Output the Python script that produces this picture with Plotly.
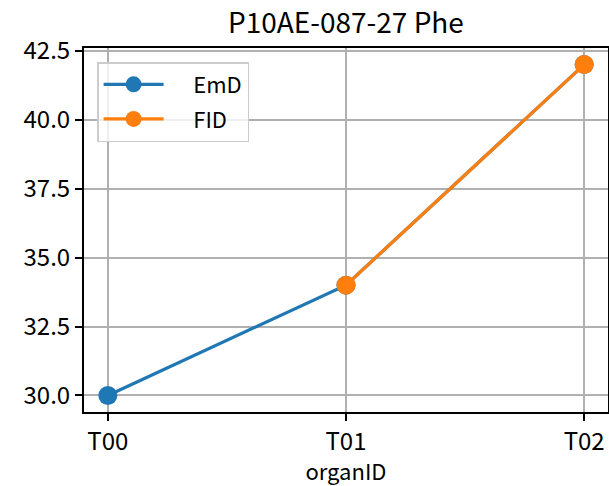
import plotly.graph_objects as go

categories = ["T00", "T01", "T02"]
emd_x = ["T00", "T01", "T02"]
emd_y = [30.0, 34.0, 42.0]
fid_x = ["T01", "T02"]
fid_y = [34.0, 42.0]
y_ticks = [30.0, 32.5, 35.0, 37.5, 40.0, 42.5]
y_labels = ["30.0", "32.5", "35.0", "37.5", "40.0", "42.5"]

FONT = "Noto Sans CJK JP"
PAD = "\u00a0" * 5

fig = go.Figure()
fig.add_trace(go.Scatter(x=emd_x, y=emd_y, mode="lines+markers", name=PAD + "EmD",
                         legendgroup="a",
                         line=dict(color="#1f77b4", width=3.2),
                         marker=dict(color="#1f77b4", size=19)))
fig.add_trace(go.Scatter(x=fid_x, y=fid_y, mode="lines+markers", name=PAD + "FID",
                         legendgroup="b",
                         line=dict(color="#ff7f0e", width=3.2),
                         marker=dict(color="#ff7f0e", size=19)))

axis_common = dict(showline=True, linecolor="black", linewidth=2, mirror=True,
                   showgrid=True, gridcolor="#b0b0b0", gridwidth=2,
                   ticks="outside", ticklen=7, tickwidth=2, tickcolor="black",
                   zeroline=False, automargin=False,
                   tickfont=dict(family=FONT, size=24, color="black"))

fig.update_layout(
    width=609, height=486,
    margin=dict(l=84, r=1, t=48, b=74, autoexpand=False),
    paper_bgcolor="white", plot_bgcolor="white",
    font=dict(family=FONT, color="black"),
    title=dict(text="P10AE-087-27 Phe", x=0.568, xanchor="center", y=0.952, yanchor="middle",
               font=dict(family=FONT, size=28, color="black"), automargin=False),
    xaxis=dict(type="category", categoryorder="array", categoryarray=categories,
               range=[-0.1, 2.1],
               title=dict(text="organID", font=dict(family=FONT, size=22, color="black")),
               **axis_common),
    yaxis=dict(range=[29.4, 42.6], tickvals=y_ticks, ticktext=y_labels,
               **axis_common),
    legend=dict(x=0.025, y=0.9615, xanchor="left", yanchor="top",
                bgcolor="rgba(255,255,255,0.8)", bordercolor="#cccccc", borderwidth=1.5,
                font=dict(family=FONT, size=22, color="black"),
                itemwidth=60, traceorder="grouped", tracegroupgap=3),
    showlegend=True,
)

fig.write_html("out.html", config={"displayModeBar": False},
               post_script="document.body.style.margin='0px';")
